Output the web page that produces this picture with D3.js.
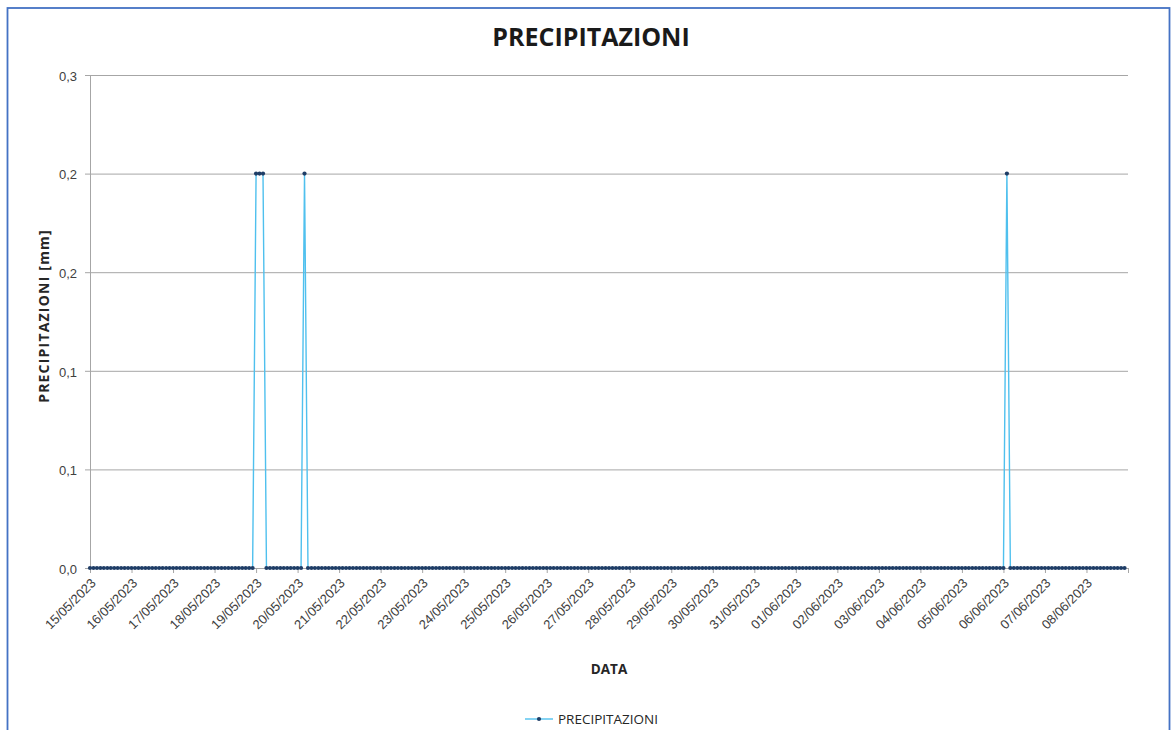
<!DOCTYPE html>
<html>
<head>
<meta charset="utf-8">
<script src="https://cdn.jsdelivr.net/npm/d3@7"></script>
<style>
  html, body { margin: 0; padding: 0; background: #ffffff; }
  svg { display: block; font-family: "Open Sans", "DejaVu Sans", sans-serif; }
</style>
</head>
<body>
<svg id="chart" width="1176" height="730"></svg>
<script>
// ---------------- DATA ----------------
const chartTitle = "PRECIPITAZIONI";
const seriesName = "PRECIPITAZIONI";
const yAxisTitle = "PRECIPITAZIONI [mm]";
const xAxisTitle = "DATA";

// one row per day, readings every 2 hours
const days = [
  "15/05/2023","16/05/2023","17/05/2023","18/05/2023","19/05/2023",
  "20/05/2023","21/05/2023","22/05/2023","23/05/2023","24/05/2023",
  "25/05/2023","26/05/2023","27/05/2023","28/05/2023","29/05/2023",
  "30/05/2023","31/05/2023","01/06/2023","02/06/2023","03/06/2023",
  "04/06/2023","05/06/2023","06/06/2023","07/06/2023","08/06/2023"
];
const slots = ["00:00","02:00","04:00","06:00","08:00","10:00","12:00","14:00","16:00","18:00","20:00","22:00"];
const rain = [
  [0,0,0,0,0,0,0,0,0,0,0,0],       // 15/05
  [0,0,0,0,0,0,0,0,0,0,0,0],       // 16/05
  [0,0,0,0,0,0,0,0,0,0,0,0],       // 17/05
  [0,0,0,0,0,0,0,0,0,0,0,0],       // 18/05
  [0.2,0.2,0.2,0,0,0,0,0,0,0,0,0], // 19/05
  [0,0,0.2,0,0,0,0,0,0,0,0,0],     // 20/05
  [0,0,0,0,0,0,0,0,0,0,0,0],       // 21/05
  [0,0,0,0,0,0,0,0,0,0,0,0],       // 22/05
  [0,0,0,0,0,0,0,0,0,0,0,0],       // 23/05
  [0,0,0,0,0,0,0,0,0,0,0,0],       // 24/05
  [0,0,0,0,0,0,0,0,0,0,0,0],       // 25/05
  [0,0,0,0,0,0,0,0,0,0,0,0],       // 26/05
  [0,0,0,0,0,0,0,0,0,0,0,0],       // 27/05
  [0,0,0,0,0,0,0,0,0,0,0,0],       // 28/05
  [0,0,0,0,0,0,0,0,0,0,0,0],       // 29/05
  [0,0,0,0,0,0,0,0,0,0,0,0],       // 30/05
  [0,0,0,0,0,0,0,0,0,0,0,0],       // 31/05
  [0,0,0,0,0,0,0,0,0,0,0,0],       // 01/06
  [0,0,0,0,0,0,0,0,0,0,0,0],       // 02/06
  [0,0,0,0,0,0,0,0,0,0,0,0],       // 03/06
  [0,0,0,0,0,0,0,0,0,0,0,0],       // 04/06
  [0,0,0,0,0,0,0,0,0,0,0,0],       // 05/06
  [0,0.2,0,0,0,0,0,0,0,0,0,0],     // 06/06
  [0,0,0,0,0,0,0,0,0,0,0,0],       // 07/06
  [0,0,0,0,0,0,0,0,0,0,0,0]        // 08/06
];
const axisEnd = "09/06/2023 00:00";

const yTickValues = [0, 0.05, 0.10, 0.15, 0.20, 0.25];
const yTickLabels = ["0,0", "0,1", "0,1", "0,2", "0,2", "0,3"];

// ---------------- CHART ----------------
const parse = d3.timeParse("%d/%m/%Y %H:%M");
const data = [];
days.forEach((d, i) => slots.forEach((s, j) => data.push({ t: parse(d + " " + s), v: rain[i][j] })));

const svg = d3.select("#chart");
const plot = { left: 90, right: 1128, top: 75, bottom: 568 };

// outer frame
svg.append("rect")
  .attr("x", 7.5).attr("y", 8).attr("width", 1162).attr("height", 760)
  .attr("fill", "#ffffff").attr("stroke", "#4472c4").attr("stroke-width", 1.8);

const x = d3.scaleTime()
  .domain([parse(days[0] + " 00:00"), parse(axisEnd)])
  .range([plot.left, plot.right]);
const y = d3.scaleLinear()
  .domain([yTickValues[0], yTickValues[yTickValues.length - 1]])
  .range([plot.bottom, plot.top]);

// gridlines + y axis
const yAxis = d3.axisLeft(y)
  .tickValues(yTickValues)
  .tickSize(-(plot.right - plot.left))
  .tickSizeOuter(0)
  .tickFormat((d, i) => yTickLabels[i]);
const gy = svg.append("g").attr("transform", `translate(${plot.left},0)`).call(yAxis);
gy.select(".domain").remove();
gy.selectAll(".tick line")
  .attr("x1", -5)
  .attr("stroke", "#a6a6a6").attr("stroke-width", 1);
gy.selectAll(".tick text")
  .attr("x", -13).attr("dy", "0.4em")
  .attr("fill", "#404040")
  .style("font-size", "13px");

// vertical axis line
svg.append("line")
  .attr("x1", plot.left + 0.5).attr("x2", plot.left + 0.5)
  .attr("y1", plot.top).attr("y2", plot.bottom + 5)
  .attr("stroke", "#a6a6a6").attr("stroke-width", 1);

// x axis
const dayTicks = d3.timeDay.range(x.domain()[0], d3.timeDay.offset(x.domain()[1], 1));
const fmt = d3.timeFormat("%d/%m/%Y");
const xAxis = d3.axisBottom(x)
  .tickValues(dayTicks)
  .tickSize(5)
  .tickSizeOuter(0)
  .tickFormat(d => days.includes(fmt(d)) ? fmt(d) : "");
const gx = svg.append("g").attr("transform", `translate(0,${plot.bottom})`).call(xAxis);
gx.select(".domain").attr("stroke", "#a6a6a6");
gx.selectAll(".tick line").attr("stroke", "#a6a6a6");
gx.selectAll(".tick text")
  .attr("fill", "#404040")
  .style("font-size", "13px")
  .attr("text-anchor", "end")
  .attr("dy", 0).attr("y", 0)
  .attr("transform", "translate(6,16) rotate(-45)");

// series line
const line = d3.line().x(d => x(d.t)).y(d => y(d.v));
svg.append("path")
  .datum(data)
  .attr("fill", "none")
  .attr("stroke", "#4fc0ee")
  .attr("stroke-width", 1.4)
  .attr("d", line);

// markers
svg.append("g").selectAll("circle")
  .data(data)
  .join("circle")
  .attr("cx", d => x(d.t))
  .attr("cy", d => y(d.v))
  .attr("r", 2.1)
  .attr("fill", "#1f3d66");

// title
svg.append("text")
  .attr("x", 591).attr("y", 46)
  .attr("text-anchor", "middle")
  .attr("font-weight", "bold")
  .style("font-size", "25px")
  .attr("fill", "#1a1a1a")
  .text(chartTitle);

// axis titles
svg.append("text")
  .attr("transform", `translate(49,316) rotate(-90)`)
  .attr("text-anchor", "middle")
  .attr("font-weight", "bold")
  .style("font-size", "14px")
  .style("letter-spacing", "1.2px")
  .attr("fill", "#262626")
  .text(yAxisTitle);

svg.append("text")
  .attr("x", (plot.left + plot.right) / 2).attr("y", 674)
  .attr("text-anchor", "middle")
  .attr("font-weight", "bold")
  .style("font-size", "13.5px")
  .attr("fill", "#262626")
  .text(xAxisTitle);

// legend
const lg = svg.append("g").attr("transform", "translate(525,719)");
lg.append("line").attr("x1", 0).attr("x2", 28).attr("y1", 0).attr("y2", 0)
  .attr("stroke", "#4fc0ee").attr("stroke-width", 1.4);
lg.append("circle").attr("cx", 14).attr("cy", 0).attr("r", 2.1).attr("fill", "#1f3d66");
lg.append("text").attr("x", 33).attr("y", 0).attr("dy", "0.36em")
  .style("font-size", "13.5px").attr("fill", "#262626")
  .text(seriesName);
</script>
</body>
</html>
